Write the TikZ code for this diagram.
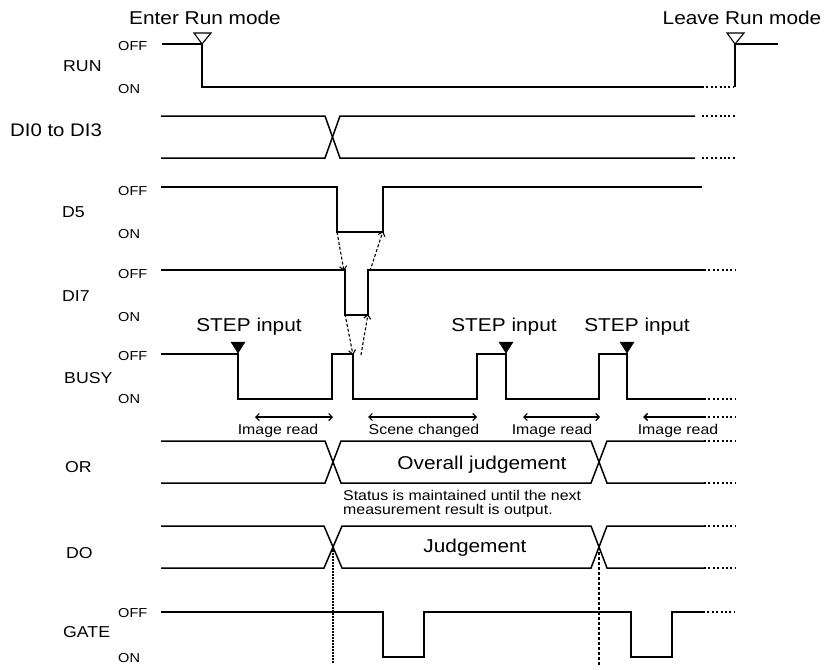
\documentclass[tikz,border=0pt]{standalone}
\usepackage{fontspec}
\setmainfont{Liberation Sans}[FakeStretch=1.12]
\usetikzlibrary{arrows.meta}
\begin{document}
\begin{tikzpicture}[x=1pt,y=-1pt,
  sig/.style={line width=1.5pt, line join=miter},
  runline/.style={line width=1.1pt, line join=miter},
  ext/.style={line width=1.3pt, dash pattern=on 2pt off 2.4pt},
  dasharr/.style={line width=1.1pt, dash pattern=on 3pt off 2pt, -{Straight Barb[length=4pt,width=7pt]}},
  span/.style={line width=1.1pt, {Straight Barb[length=3.5pt,width=7pt]}-{Straight Barb[length=3.5pt,width=7pt]}},
  lspan/.style={line width=1.5pt, {Straight Barb[length=3.5pt,width=7pt]}-},
  big/.style={font=\fontsize{18.6}{20}\selectfont, inner sep=0pt, anchor=base},
  sname/.style={font=\fontsize{15.8}{17}\selectfont, inner sep=0pt, anchor=base west},
  lvl/.style={font=\fontsize{13}{14}\selectfont, inner sep=0pt, anchor=base west},
  small/.style={font=\fontsize{14.2}{15}\selectfont, inner sep=0pt, anchor=base},
  tri/.style={line width=1.1pt, line join=miter},
  ftri/.style={fill=black, draw=black, line width=0.5pt}
]
\useasboundingbox (0,0) rectangle (826,669);

% ---------- titles ----------
\node[big] (enter) at (205,25) {Enter Run mode};
\node[big] (leave) at (742,25) {Leave Run mode};

% ---------- signal names ----------
\node[sname] (nRUN) at (63,71) {RUN};
\node[sname, font=\fontsize{18.2}{20}\selectfont] (nDI) at (10,136) {DI0 to DI3};
\node[sname] (nD5) at (62,217) {D5};
\node[sname] (nDI7) at (62,301) {DI7};
\node[sname] (nBUSY) at (64,383) {BUSY};
\node[sname] (nOR) at (65,472) {OR};
\node[sname] (nDO) at (66,558) {DO};
\node[sname] (nGATE) at (63,637) {GATE};

% ---------- OFF / ON ----------
\node[lvl] (runoff) at (118,50) {OFF};
\node[lvl] (runon) at (118,93) {ON};
\node[lvl] (d5off) at (118,195) {OFF};
\node[lvl] (d5on) at (118,238) {ON};
\node[lvl] (di7off) at (118,278) {OFF};
\node[lvl] (di7on) at (118,321) {ON};
\node[lvl] (busyoff) at (118,360) {OFF};
\node[lvl] (busyon) at (118,403) {ON};
\node[lvl] (gateoff) at (118,617) {OFF};
\node[lvl] (gateon) at (118,662) {ON};

% ---------- RUN ----------
\draw[runline] (162,44) -- (202,44) -- (202,87) -- (702,87);
\draw[ext] (702,87) -- (734,87);
\draw[runline] (735,87) -- (735,44) -- (778,44);
\draw[tri] (194,33) -- (211,33) -- (202,44) -- cycle;
\draw[tri] (727,33) -- (744,33) -- (735,44) -- cycle;

% ---------- DI0 to DI3 ----------
\draw[sig] (161,116) -- (325,116) -- (340,158) -- (695,158);
\draw[sig] (161,158) -- (325,158) -- (340,116) -- (695,116);
\draw[ext] (702,116) -- (735,116);
\draw[ext] (702,158) -- (735,158);

% ---------- D5 ----------
\coordinate (d5fall) at (337,232);
\coordinate (d5rise) at (383,232);
\draw[sig] (161,187) -- (337,187) -- (d5fall) -- (d5rise) -- (383,187) -- (702,187);

% ---------- DI7 ----------
\coordinate (di7fallT) at (345,270);
\coordinate (di7fallB) at (345,315);
\coordinate (di7riseB) at (368,315);
\coordinate (di7riseT) at (369,270);
\draw[sig] (161,270) -- (di7fallT) -- (di7fallB) -- (di7riseB) -- (368,270) -- (704,270);
\draw[ext] (704,270) -- (735,270);

% ---------- BUSY ----------
\coordinate (busyfallT) at (353,354);
\draw[sig] (161,354) -- (238,354) -- (238,399) -- (332,399) -- (332,354) -- (busyfallT)
  -- (353,399) -- (477,399) -- (477,354) -- (506,354) -- (506,399) -- (599,399)
  -- (599,354) -- (627,354) -- (627,399) -- (704,399);
\draw[ext] (704,399) -- (735,399);

% dashed causal arrows
\draw[dasharr] (d5fall) -- ([xshift=-1pt,yshift=-1pt]di7fallT);
\draw[dasharr] ([xshift=1pt,yshift=-1pt]di7riseT) -- ([yshift=1pt]d5rise);
\draw[dasharr] ([yshift=1pt]di7fallB) -- ([yshift=-1pt]busyfallT);
\draw[dasharr] ([xshift=8pt,yshift=-1pt]busyfallT) -- ([yshift=1pt]di7riseB);

% STEP input markers
\node[big] (step1) at (249,331) {STEP input};
\node[big] (step2) at (504,331) {STEP input};
\node[big] (step3) at (637,331) {STEP input};
\draw[ftri] (231,342) -- (245,342) -- (238,353) -- cycle;
\draw[ftri] (499,342) -- (513,342) -- (506,353) -- cycle;
\draw[ftri] (620,342) -- (634,342) -- (627,353) -- cycle;

% ---------- spans ----------
\draw[span] (255,417) -- (333,417);
\draw[span] (368,417) -- (477,417);
\draw[span] (523,417) -- (600,417);
\draw[lspan] (643,417) -- (704,417);
\draw[ext] (704,417) -- (735,417);
\node[small] (ir1) at (278,434) {Image read};
\node[small] (sc) at (424,434) {Scene changed};
\node[small] (ir2) at (552,434) {Image read};
\node[small] (ir3) at (678,434) {Image read};

% ---------- OR ----------
\draw[sig] (161,441) -- (325,441) -- (341,483) -- (591,483) -- (607,441) -- (704,441);
\draw[sig] (161,483) -- (325,483) -- (341,441) -- (591,441) -- (607,483) -- (704,483);
\draw[ext] (704,441) -- (735,441);
\draw[ext] (704,483) -- (735,483);
\node[big] (overall) at (482,469) {Overall judgement};
\node[font=\fontsize{14.2}{14.5}\selectfont, inner sep=0pt, anchor=north west, align=left] (status) at (343,490)
  {Status is maintained until the next\\measurement result is output.};

% ---------- DO ----------
\draw[sig] (161,526) -- (324,526) -- (342,568) -- (591,568) -- (607,526) -- (704,526);
\draw[sig] (161,568) -- (324,568) -- (342,526) -- (591,526) -- (607,568) -- (704,568);
\draw[ext] (704,526) -- (735,526);
\draw[ext] (704,568) -- (735,568);
\node[big] (judge) at (475,552) {Judgement};

% vertical guide lines
\coordinate (xo1) at (333,547);
\coordinate (xo2) at (599,547);
\coordinate (g1) at (333,663);
\coordinate (g2) at (599,665);
\draw[line width=1.1pt, dash pattern=on 1.5pt off 1.5pt] (xo1) -- (g1);
\draw[line width=1.1pt, dash pattern=on 3pt off 2pt] (xo2) -- (g2);

% ---------- GATE ----------
\draw[sig] (161,612) -- (383,612) -- (383,657) -- (424,657) -- (424,612) -- (631,612)
  -- (631,657) -- (672,657) -- (672,612) -- (703,612);
\draw[ext] (703,612) -- (735,612);
\end{tikzpicture}
\end{document}
